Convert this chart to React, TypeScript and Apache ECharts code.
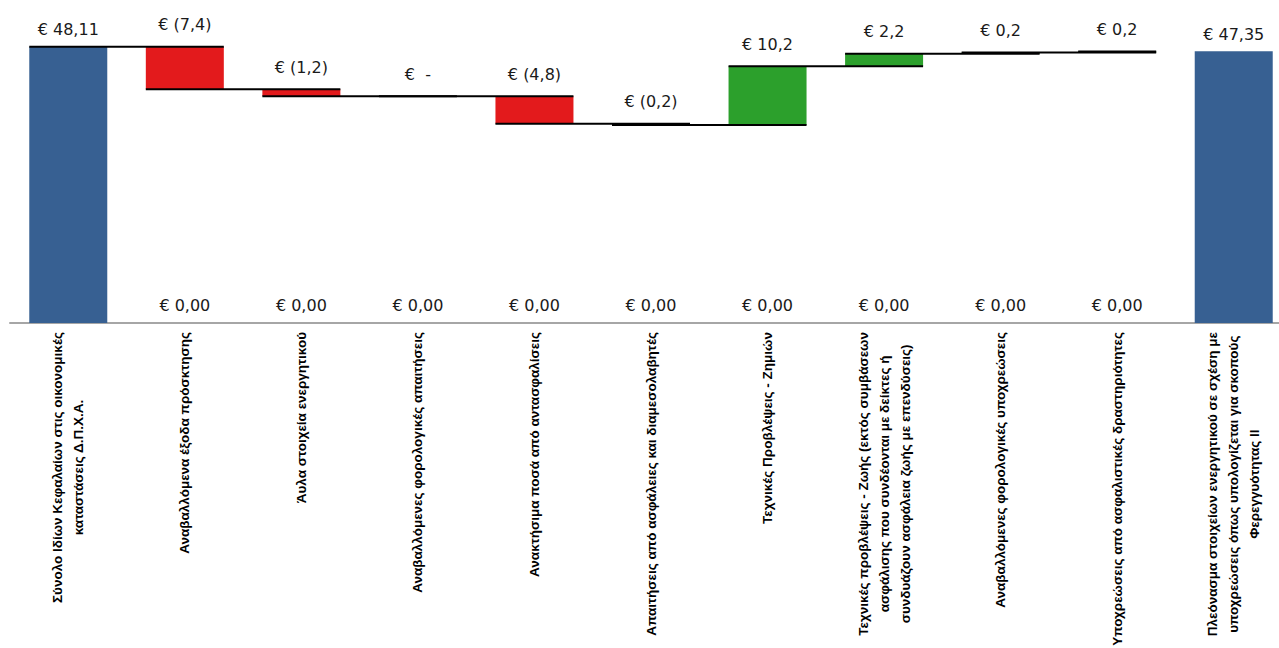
import React, { useEffect, useRef } from "react";
import * as echarts from "echarts";

const categories = [
  "Σύνολο Ιδίων Κεφαλαίων στις οικονομικές\nκαταστάσεις Δ.Π.Χ.Α.",
  "Αναβαλλόμενα έξοδα πρόσκτησης",
  "Άυλα στοιχεία ενεργητικού",
  "Αναβαλλόμενες φορολογικές απαιτήσεις",
  "Ανακτήσιμα ποσά από αντασφαλίσεις",
  "Απαιτήσεις από ασφάλειες και διαμεσολαβητές",
  "Τεχνικές Προβλέψεις - Ζημιών",
  "Τεχνικές προβλέψεις - Ζωής (εκτός συμβάσεων\nασφάλισης που συνδέονται με δείκτες ή\nσυνδυάζουν ασφάλεια ζωής με επενδύσεις)",
  "Αναβαλλόμενες φορολογικές υποχρεώσεις",
  "Υποχρεώσεις από ασφαλιστικές δραστηριότητες",
  "Πλεόνασμα στοιχείων ενεργητικού σε σχέση με\nυποχρεώσεις όπως υπολογίζεται για σκοπούς\nΦερεγγυότητας ΙΙ",
];

const startTotal = 48.11;
const endTotal = 47.35;
const deltas = [-7.4, -1.2, 0, -4.8, -0.2, 10.2, 2.2, 0.2, 0.2];
const zeroLabel = "€ 0,00";

const BAR_W = 78;
const BLUE = "#376092";
const RED = "#e31a1c";
const GREEN = "#2ca02c";

function fmtTotal(v: number) {
  return "€ " + v.toFixed(2).replace(".", ",");
}
function fmtDelta(d: number) {
  if (d === 0) return "€  -";
  const s = Math.abs(d).toFixed(1).replace(".", ",");
  return d < 0 ? `€ (${s})` : `€ ${s}`;
}

export default function App() {
  const ref = useRef<HTMLDivElement>(null);

  useEffect(() => {
    document.body.style.margin = "0";
    document.body.style.overflow = "hidden";
    if (!ref.current) return;
    const chart = echarts.init(ref.current, null, { renderer: "svg" });

    const n = categories.length;
    const base: any[] = new Array(n).fill("-");
    const neg: any[] = new Array(n).fill("-");
    const pos: any[] = new Array(n).fill("-");
    const tot: any[] = new Array(n).fill("-");
    const zeros: any[] = new Array(n).fill("-");
    const levels: number[] = [startTotal];
    tot[0] = startTotal;
    tot[n - 1] = endTotal;
    let lvl = startTotal;
    deltas.forEach((d, k) => {
      const i = k + 1;
      const next = lvl + d;
      base[i] = Math.min(lvl, next);
      if (d > 0) pos[i] = d;
      else neg[i] = -d;
      zeros[i] = 0;
      lvl = next;
      levels.push(next);
    });
    const connectors = levels.map((l, i) => [i, l, i + 1 >= n - 1 ? i : i + 1]);

    const valueLabel = {
      show: true,
      position: "top" as const,
      distance: 14,
      fontFamily: "DejaVu Sans",
      fontSize: 16,
      color: "#1a1a1a",
    };

    chart.setOption({
      animation: false,
      grid: { left: 10, right: 0, top: 36, height: 287, outerBoundsMode: "none", containLabel: false },
      xAxis: {
        type: "category",
        data: categories,
        axisLine: { lineStyle: { color: "#a6a6a6", width: 2 } },
        axisTick: { show: false },
        axisLabel: {
          interval: 0,
          rotate: 90,
          margin: 9,
          formatter: (v: string) =>
            v
              .split("\n")
              .map((l) => `{c|${l}}`)
              .join("\n"),
          rich: {
            c: {
              align: "center",
              fontFamily: "Liberation Sans",
              fontWeight: "bold",
              fontSize: 13.5,
              lineHeight: 21,
              color: "#000",
            },
          },
        },
      },
      yAxis: { type: "value", min: 0, max: 50, show: false, splitLine: { show: false } },
      series: [
        {
          type: "bar",
          stack: "w",
          data: base,
          barWidth: BAR_W,
          itemStyle: { color: "transparent" },
          silent: true,
        },
        {
          type: "bar",
          stack: "w",
          data: neg,
          barWidth: BAR_W,
          itemStyle: { color: RED },
          label: { ...valueLabel, formatter: (p: any) => fmtDelta(deltas[p.dataIndex - 1]) },
        },
        {
          type: "bar",
          stack: "w",
          data: pos,
          barWidth: BAR_W,
          itemStyle: { color: GREEN },
          label: { ...valueLabel, formatter: (p: any) => fmtDelta(deltas[p.dataIndex - 1]) },
        },
        {
          type: "bar",
          stack: "w",
          data: tot,
          barWidth: BAR_W,
          itemStyle: { color: BLUE },
          label: { ...valueLabel, distance: 9, formatter: (p: any) => fmtTotal(p.value) },
        },
        {
          type: "bar",
          data: zeros,
          barWidth: BAR_W,
          barGap: "-100%",
          itemStyle: { color: "transparent" },
          label: {
            show: true,
            position: "top",
            distance: 10,
            fontFamily: "DejaVu Sans",
            fontSize: 16,
            color: "#1a1a1a",
            formatter: () => zeroLabel,
          },
        },
        {
          type: "custom",
          data: connectors,
          encode: { x: 0, y: 1 },
          z: 5,
          silent: true,
          renderItem: (_params: any, api: any) => {
            const i = api.value(0);
            const l = api.value(1);
            const j = api.value(2);
            const p1 = api.coord([i, l]);
            const p2 = api.coord([j, l]);
            return {
              type: "line",
              shape: { x1: p1[0] - BAR_W / 2, y1: p1[1], x2: p2[0] + BAR_W / 2, y2: p2[1] },
              style: { stroke: "#000", lineWidth: 2 },
            };
          },
        },
      ],
    });

    return () => chart.dispose();
  }, []);

  return <div ref={ref} style={{ width: 1292, height: 648 }} />;
}
